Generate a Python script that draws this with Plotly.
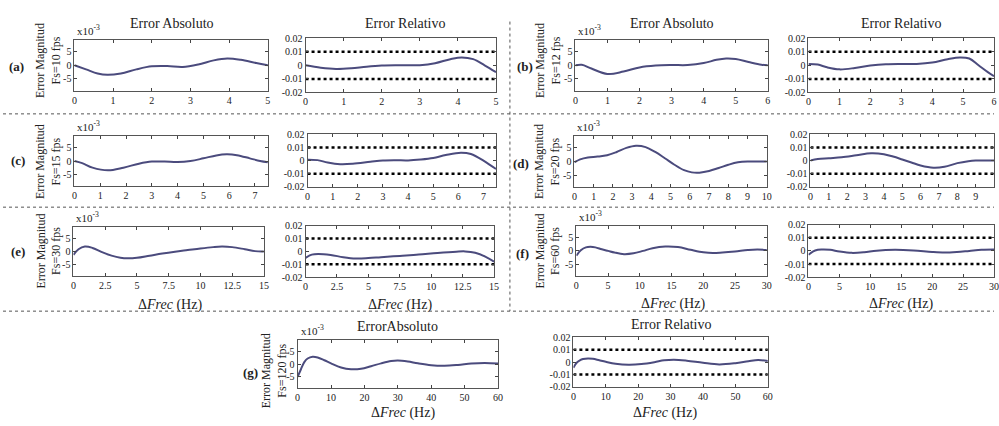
import plotly.graph_objects as go

W, H = 999, 426

# ---------------- data (abs in x10^-3 units, rel unitless) ----------------
a_abs_x = [0, 0.3, 0.6, 0.85, 1.2, 1.6, 2.0, 2.4, 2.8, 3.2, 3.6, 3.95, 4.3, 4.7, 5.0]
a_abs_y = [0, -1.5, -3.0, -3.5, -3.0, -1.5, -0.4, -0.3, -0.6, 0.3, 1.8, 2.5, 2.0, 0.8, 0.0]
a_rel_x = [0, 0.4, 0.8, 1.2, 1.6, 2, 2.5, 3, 3.4, 3.8, 4.1, 4.4, 4.7, 5]
a_rel_y = [0, -0.0018, -0.0027, -0.0022, -0.001, -0.0002, 0, 0.0001, 0.0015, 0.0045, 0.0058, 0.0045, 0.0, -0.005]

b_abs_x = [0, 0.2, 0.5, 1.0, 1.5, 2, 2.5, 3, 3.5, 4, 4.4, 4.7, 5.0, 5.4, 5.8, 6]
b_abs_y = [0, 0.2, -1.2, -3.2, -2.3, -0.8, -0.1, 0.1, 0.1, 0.8, 2.0, 2.5, 2.3, 1.2, 0.2, 0]
b_rel_x = [0, 0.3, 0.6, 1.0, 1.5, 2, 2.5, 3, 3.5, 4, 4.5, 4.9, 5.2, 5.5, 5.8, 6]
b_rel_y = [0.001, 0.0005, -0.0015, -0.003, -0.002, -0.0002, 0.0008, 0.001, 0.001, 0.002, 0.0045, 0.0058, 0.005, 0.0, -0.005, -0.008]

c_abs_x = [0, 0.3, 0.7, 1.3, 1.9, 2.5, 3, 3.5, 4, 4.5, 5, 5.5, 5.9, 6.3, 6.8, 7.2, 7.5]
c_abs_y = [0, -0.8, -2.5, -3.5, -2.5, -1.0, -0.2, -0.2, -0.4, 0.0, 1.0, 2.1, 2.5, 2.2, 1.0, 0.0, -0.5]
c_rel_x = [0, 0.4, 0.8, 1.3, 1.8, 2.5, 3, 3.5, 4, 4.5, 5, 5.5, 6.1, 6.5, 7, 7.5]
c_rel_y = [0.0006, 0.0003, -0.0015, -0.0028, -0.0025, -0.001, 0, 0.0002, 0.0001, 0.0008, 0.002, 0.0042, 0.006, 0.005, 0.0, -0.0065]

d_abs_x = [0, 0.3, 0.7, 1.2, 1.7, 2.2, 2.7, 3.2, 3.7, 4.2, 4.7, 5.2, 5.7, 6.1, 6.5, 7, 7.5, 8, 8.5, 9, 9.5, 10]
d_abs_y = [-0.3, 0.8, 1.5, 1.8, 2.3, 3.5, 5.0, 5.8, 5.3, 3.5, 1.2, -1.2, -3.2, -4.0, -4.1, -3.5, -2.4, -1.2, -0.3, 0.0, 0.0, 0.0]
d_rel_x = [0, 0.4, 1, 1.7, 2.5, 3.3, 4, 4.5, 5, 5.5, 6, 6.7, 7.3, 8, 8.6, 9, 9.5, 10]
d_rel_y = [0, 0.0012, 0.0018, 0.0025, 0.004, 0.0055, 0.0048, 0.003, 0.0008, -0.0015, -0.0038, -0.0055, -0.0048, -0.002, -0.0005, 0, 0, 0]

e_abs_x = [0, 0.4, 0.9, 1.5, 2.2, 3, 3.7, 4.3, 5, 6, 7, 8, 9, 10, 11, 11.7, 12.5, 13.5, 14.3, 15]
e_abs_y = [-1.3, 0.8, 1.8, 1.3, -0.2, -1.6, -2.4, -2.6, -2.4, -1.6, -0.8, -0.1, 0.5, 1.1, 1.6, 1.8, 1.6, 0.8, 0.1, 0]
e_rel_x = [0, 0.5, 1, 2, 3, 4, 5, 6, 7.5, 9, 10.5, 12, 12.7, 13.5, 14.3, 15]
e_rel_y = [-0.005, -0.0025, -0.002, -0.0028, -0.0045, -0.0055, -0.0052, -0.0045, -0.0035, -0.0025, -0.0012, -0.0002, 0, -0.001, -0.004, -0.008]

f_abs_x = [0, 0.7, 1.5, 2.2, 3, 4, 5, 6, 7.5, 9, 10.5, 12, 14, 16, 18, 20, 21.5, 23, 25, 27, 28.5, 30]
f_abs_y = [-1.8, 0.2, 1.3, 1.5, 1.3, 0.6, 0.0, -0.6, -1.2, -0.9, 0.0, 1.0, 1.6, 1.4, 0.4, -0.5, -0.8, -0.6, -0.2, 0.3, 0.5, 0.3]
f_rel_x = [0, 0.7, 1.5, 2.2, 3.5, 5, 7, 9, 11, 14, 17, 20, 22, 24, 26, 28, 30]
f_rel_y = [-0.003, -0.0005, 0.0008, 0.001, 0.0008, -0.0005, -0.0015, -0.001, 0.0002, 0.0008, 0.0003, -0.0008, -0.0012, -0.0008, 0.0, 0.0008, 0.001]

g_abs_x = [0, 1, 2, 3, 4.5, 6, 8, 10, 13, 16, 19, 22, 25, 28, 30, 33, 36, 40, 44, 48, 52, 56, 60]
g_abs_y = [-5, -2, 0.8, 2.2, 2.9, 2.6, 1.5, 0.3, -1.3, -2.0, -1.8, -0.8, 0.3, 1.2, 1.4, 1.0, 0.3, -0.4, -0.6, -0.3, 0.2, 0.4, 0.2]
g_rel_x = [0, 1, 2, 3, 4.5, 6, 8, 10, 13, 17, 21, 25, 28, 31, 35, 40, 45, 50, 54, 57, 60]
g_rel_y = [-0.0045, -0.0005, 0.0015, 0.0025, 0.003, 0.0027, 0.0015, 0.0003, -0.0012, -0.002, -0.0015, 0.0, 0.0015, 0.002, 0.0012, -0.0005, -0.0018, -0.0008, 0.0008, 0.0018, 0.001]

rel_limits = [0.01, -0.01]
abs_ticks = [-5, 0, 5]
rel_ticks = [-0.02, -0.01, 0, 0.01, 0.02]
rel_tick_text = ["-0.02", "-0.01", "0", "0.01", "0.02"]

a_xticks = [0, 1, 2, 3, 4, 5]
b_xticks = [0, 1, 2, 3, 4, 5, 6]
c_xticks = [0, 1, 2, 3, 4, 5, 6, 7]
d_xticks = [0, 1, 2, 3, 4, 5, 6, 7, 8, 9, 10]
e_xticks = [0, 2.5, 5, 7.5, 10, 12.5, 15]
e_xtext = ["0", "2.5", "5", "7.5", "10", "12.5", "15"]
f_xticks = [0, 5, 10, 15, 20, 25, 30]
g_xticks = [0, 10, 20, 30, 40, 50, 60]

row_labels = ["(a)", "(b)", "(c)", "(d)", "(e)", "(f)", "(g)"]
fps_labels = ["Fs=10 fps", "Fs=12 fps", "Fs=15 fps", "Fs=20 fps", "Fs=30 fps", "Fs=60 fps", "Fs=120 fps"]

# ---------------- layout helpers ----------------
FONT = "Liberation Serif"
CURVE = "#4b4b7d"
FRAME = "#555555"

fig = go.Figure()
layout = dict(width=W, height=H, margin=dict(l=0, r=0, t=0, b=0),
              paper_bgcolor="white", plot_bgcolor="white", showlegend=False,
              font=dict(family=FONT, color="#222", size=10))
annotations = []
shapes = []
n = [0]


def px(x):
    return x / W


def py(y):
    return 1 - y / H


def panel(xs, ys, box, xr, xticks, xtext, kind):
    n[0] += 1
    i = n[0]
    sx = "" if i == 1 else str(i)
    l, r, t, b = box
    layout["xaxis" + sx] = dict(domain=[px(l), min(px(r), 1)], anchor="y" + sx, range=xr,
                                tickvals=xticks, ticktext=xtext, ticks="inside", ticklen=3,
                                showline=True, mirror="ticks", linecolor=FRAME, linewidth=1,
                                showgrid=False, zeroline=False, tickfont=dict(size=10, family=FONT, color="#222"))
    if kind == "abs":
        yd = dict(range=[-9.3, 9.3], tickvals=abs_ticks, ticktext=["-5", "0", "5"])
    else:
        yd = dict(range=[-0.02, 0.02], tickvals=rel_ticks, ticktext=rel_tick_text)
    layout["yaxis" + sx] = dict(domain=[py(b), py(t)], anchor="x" + sx, ticks="inside", ticklen=3,
                                showline=True, mirror="ticks", linecolor=FRAME, linewidth=1,
                                showgrid=False, zeroline=False, tickfont=dict(size=10, family=FONT, color="#222"), **yd)
    if kind == "rel":
        for lim in rel_limits:
            fig.add_trace(go.Scatter(x=[xr[0], xr[1]], y=[lim, lim], mode="lines",
                                     line=dict(color="black", width=2.5, dash="dot"),
                                     xaxis="x" + sx, yaxis="y" + sx, hoverinfo="skip"))
    fig.add_trace(go.Scatter(x=xs, y=ys, mode="lines", line=dict(color=CURVE, width=2, shape="spline"),
                             xaxis="x" + sx, yaxis="y" + sx))
    if kind == "abs":
        annotations.append(dict(x=px(l + 1), y=py(t - 1), xref="paper", yref="paper", xanchor="left",
                                yanchor="bottom", text="x10<sup>-3</sup>", showarrow=False,
                                font=dict(size=11, family=FONT, color="#222")))


def tnum(v):
    return [str(t) for t in v]


boxes = {
    "a_abs": (72, 267, 35, 87), "a_rel": (305, 497, 33, 89),
    "b_abs": (577, 771, 35, 87), "b_rel": (812, 999, 33, 89),
    "c_abs": (72, 267, 134, 185), "c_rel": (307, 497, 132, 186),
    "d_abs": (576, 770, 134, 186), "d_rel": (814, 999, 132, 186),
    "e_abs": (71, 263, 227, 278), "e_rel": (305, 495, 226, 279),
    "f_abs": (578, 770, 226, 278), "f_rel": (812, 999, 225, 279),
    "g_abs": (297, 499, 344, 393), "g_rel": (575, 771, 341, 392),
}

panel(a_abs_x, a_abs_y, boxes["a_abs"], [0, 5], a_xticks, tnum(a_xticks), "abs")
panel(a_rel_x, a_rel_y, boxes["a_rel"], [0, 5], a_xticks, tnum(a_xticks), "rel")
panel(b_abs_x, b_abs_y, boxes["b_abs"], [0, 6], b_xticks, tnum(b_xticks), "abs")
panel(b_rel_x, b_rel_y, boxes["b_rel"], [0, 6], b_xticks, tnum(b_xticks), "rel")
panel(c_abs_x, c_abs_y, boxes["c_abs"], [0, 7.5], c_xticks, tnum(c_xticks), "abs")
panel(c_rel_x, c_rel_y, boxes["c_rel"], [0, 7.5], c_xticks, tnum(c_xticks), "rel")
panel(d_abs_x, d_abs_y, boxes["d_abs"], [0, 10], d_xticks, tnum(d_xticks), "abs")
panel(d_rel_x, d_rel_y, boxes["d_rel"], [0, 10], d_xticks, tnum(d_xticks), "rel")
panel(e_abs_x, e_abs_y, boxes["e_abs"], [0, 15], e_xticks, e_xtext, "abs")
panel(e_rel_x, e_rel_y, boxes["e_rel"], [0, 15], e_xticks, e_xtext, "rel")
panel(f_abs_x, f_abs_y, boxes["f_abs"], [0, 30], f_xticks, tnum(f_xticks), "abs")
panel(f_rel_x, f_rel_y, boxes["f_rel"], [0, 30], f_xticks, tnum(f_xticks), "rel")
panel(g_abs_x, g_abs_y, boxes["g_abs"], [0, 60], g_xticks, tnum(g_xticks), "abs")
panel(g_rel_x, g_rel_y, boxes["g_rel"], [0, 60], g_xticks, tnum(g_xticks), "rel")


def text(x, y, s, size, angle=0, bold=False, yanchor="middle"):
    annotations.append(dict(x=px(x), y=py(y), xref="paper", yref="paper", text=("<b>%s</b>" % s) if bold else s,
                            showarrow=False, textangle=angle, xanchor="center", yanchor=yanchor,
                            font=dict(size=size, family=FONT, color="#222")))


# titles
text(170, 18, "Error Absoluto", 14)
text(405, 18, "Error Relativo", 14)
text(674, 18, "Error Absoluto", 14)
text(905, 18, "Error Relativo", 14)
text(398, 330, "ErrorAbsoluto", 14)
text(673, 328, "Error Relativo", 14)

# row labels and y labels
row_pos = [(14, 62, 46, 56), (526, 62, 550, 56), (15, 159, 46, 160), (522, 162, 549, 160),
           (15, 253, 46, 252), (524, 255, 549, 252), (250, 377, 274, 375)]
for (lx, ly, yx, yy), lab, fps in zip(row_pos, row_labels, fps_labels):
    text(lx, ly, lab, 13, bold=True)
    text(yx, yy, "Error Magnitud<br>" + fps, 12, angle=-90)

# x labels (anchored by their top edge)
for cx, cy in [(168, 297), (400, 297), (675, 296), (905, 296), (403, 408), (667, 408)]:
    text(cx, cy, "Δ<i>Frec</i> (Hz)", 14, yanchor="top")

# separators
sep = dict(color="#555", width=1, dash="dot")
for yy in [111, 207, 314]:
    shapes.append(dict(type="line", xref="paper", yref="paper", x0=0, x1=1, y0=py(yy), y1=py(yy), line=sep))
shapes.append(dict(type="line", xref="paper", yref="paper", x0=px(511), x1=px(511), y0=py(16), y1=py(314), line=sep))

layout["annotations"] = annotations
layout["shapes"] = shapes
fig.update_layout(**layout)
fig.write_html("out.html")
